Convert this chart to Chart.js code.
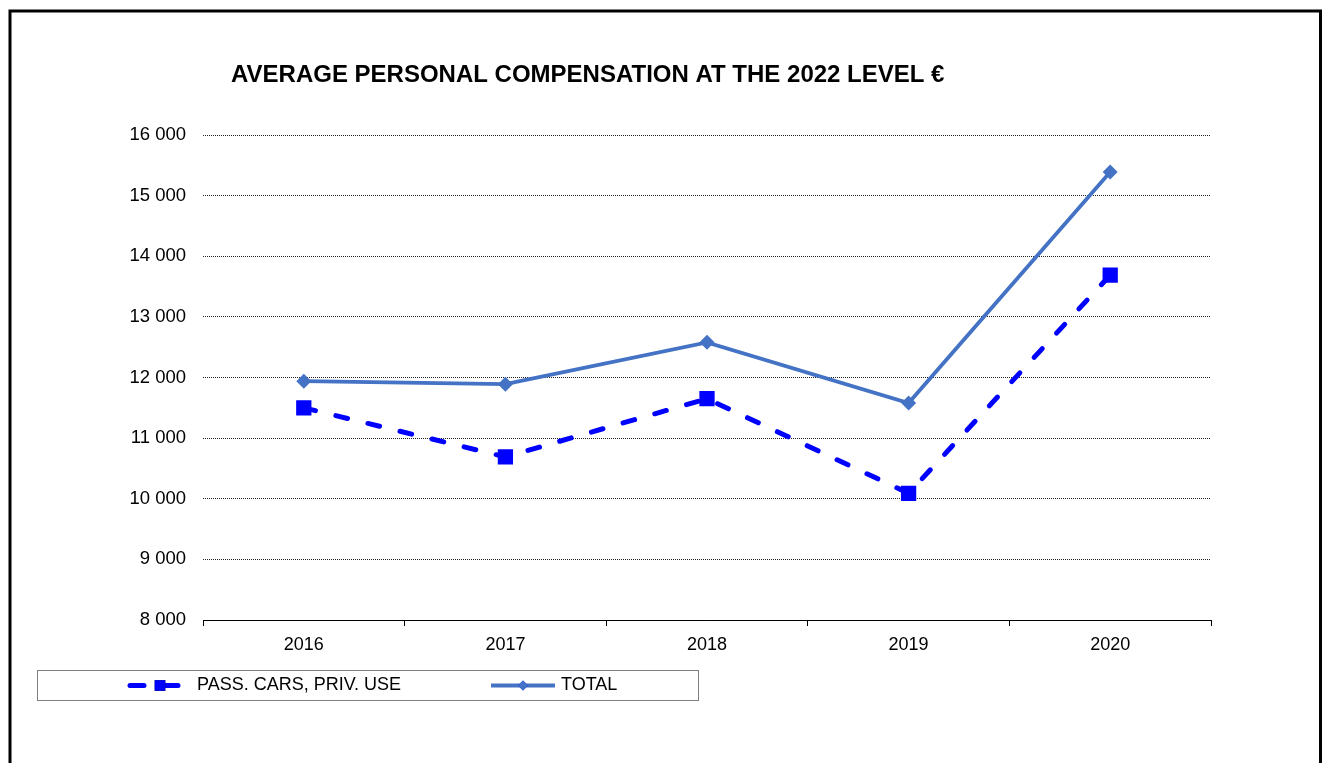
<!DOCTYPE html>
<html>
<head>
<meta charset="utf-8">
<script src="https://cdn.jsdelivr.net/npm/chart.js@4.4.1/dist/chart.umd.min.js"></script>
<style>
  html, body { margin: 0; padding: 0; background: #fff; }
  #wrap { width: 1322px; height: 763px; position: relative; }
</style>
</head>
<body>
<div id="wrap"><canvas id="c" width="1322" height="763"></canvas></div>
<script>
const categories = ['2016', '2017', '2018', '2019', '2020'];
const passCars = [11500, 10690, 11650, 10090, 13690];
const total = [11940, 11890, 12580, 11580, 15390];
const titleText = 'AVERAGE PERSONAL COMPENSATION AT THE 2022 LEVEL €';
const seriesLabels = ['PASS. CARS, PRIV. USE', 'TOTAL'];
const yMin = 8000, yMax = 16000, yStep = 1000;

const FONT = '"Liberation Sans", Arial, sans-serif';

function fmt(v) {
  return String(v).replace(/\B(?=(\d{3})+(?!\d))/g, ' ');
}

const decorPlugin = {
  id: 'decor',
  afterDraw(chart) {
    const ctx = chart.ctx;
    ctx.save();
    // frame
    ctx.strokeStyle = '#000';
    ctx.lineWidth = 3;
    ctx.beginPath();
    ctx.moveTo(10, 770);
    ctx.lineTo(10, 11);
    ctx.lineTo(1320.5, 11);
    ctx.lineTo(1320.5, 770);
    ctx.stroke();
    // title
    ctx.fillStyle = '#000';
    ctx.font = 'bold 24px ' + FONT;
    ctx.textBaseline = 'middle';
    ctx.textAlign = 'left';
    ctx.fillText(titleText, 231, 75);
    // legend box
    ctx.strokeStyle = '#808080';
    ctx.lineWidth = 1;
    ctx.strokeRect(37.5, 670.5, 661, 30);
    const ds = chart.data.datasets;
    const ly = 685.5;
    // sample 1
    ctx.strokeStyle = ds[0].borderColor;
    ctx.lineWidth = ds[0].borderWidth;
    ctx.lineCap = 'round';
    ctx.beginPath();
    ctx.moveTo(130, ly);
    ctx.lineTo(144, ly);
    ctx.moveTo(166, ly);
    ctx.lineTo(178, ly);
    ctx.stroke();
    Chart.helpers.drawPoint(ctx, {pointStyle: 'rect', radius: 7.5, borderWidth: 0}, 160, ly);
    ctx.fillStyle = ds[0].pointBackgroundColor;
    ctx.fill();
    // sample 2
    ctx.strokeStyle = ds[1].borderColor;
    ctx.lineWidth = ds[1].borderWidth;
    ctx.lineCap = 'butt';
    ctx.beginPath();
    ctx.moveTo(491, ly);
    ctx.lineTo(555, ly);
    ctx.stroke();
    Chart.helpers.drawPoint(ctx, {pointStyle: 'rectRot', radius: 5, borderWidth: 0}, 523, ly);
    ctx.fillStyle = ds[1].pointBackgroundColor;
    ctx.fill();
    // legend text
    ctx.fillStyle = '#000';
    ctx.font = '18px ' + FONT;
    ctx.textBaseline = 'middle';
    ctx.fillText(seriesLabels[0], 197, ly);
    ctx.fillText(seriesLabels[1], 561, ly);
    ctx.restore();
  }
};

new Chart(document.getElementById('c'), {
  type: 'line',
  data: {
    labels: categories,
    datasets: [
      {
        label: seriesLabels[0],
        data: passCars,
        borderColor: '#0000FF',
        backgroundColor: '#0000FF',
        pointBackgroundColor: '#0000FF',
        pointBorderColor: '#0000FF',
        borderWidth: 5,
        borderDash: [12, 21],
        borderCapStyle: 'round',
        pointStyle: 'rect',
        pointRadius: 10.8,
        pointBorderWidth: 0,
        tension: 0,
        order: 2
      },
      {
        label: seriesLabels[1],
        data: total,
        borderColor: '#4472C4',
        backgroundColor: '#4472C4',
        pointBackgroundColor: '#4472C4',
        pointBorderColor: '#4472C4',
        borderWidth: 3.8,
        pointStyle: 'rectRot',
        pointRadius: 7.5,
        pointBorderWidth: 0,
        tension: 0,
        order: 1
      }
    ]
  },
  options: {
    responsive: false,
    animation: false,
    devicePixelRatio: 1,
    layout: { padding: { top: 135, left: 0, right: 111, bottom: 0 } },
    plugins: { legend: { display: false }, title: { display: false }, tooltip: { enabled: false } },
    scales: {
      x: {
        offset: true,
        afterFit(s) { s.height = 143; },
        grid: { offset: true, drawOnChartArea: false, drawTicks: true, tickLength: 6, color: '#000', lineWidth: 1 },
        border: { display: true, color: '#000', width: 1 },
        ticks: { color: '#000', font: { family: FONT, size: 18 }, padding: 8 }
      },
      y: {
        min: yMin, max: yMax,
        afterFit(s) { s.width = 203; },
        grid: { drawTicks: false, color: '#222', lineWidth: 1 },
        border: { display: false, dash: [1, 1] },
        ticks: { stepSize: yStep, color: '#000', font: { family: FONT, size: 18.5 }, padding: 17, callback: v => fmt(v) }
      }
    }
  },
  plugins: [decorPlugin]
});
</script>
</body>
</html>
